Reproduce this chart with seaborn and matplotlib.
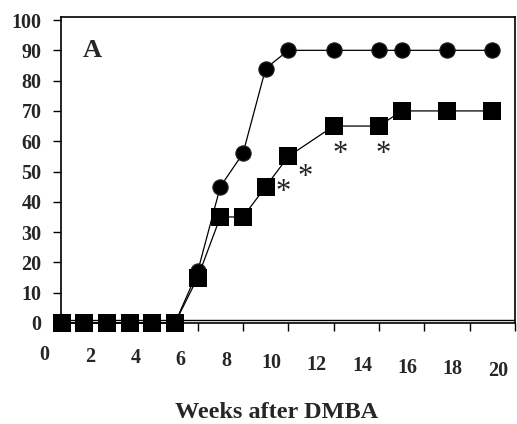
import matplotlib
matplotlib.use("Agg")
import matplotlib.pyplot as plt
import matplotlib.transforms as mtransforms
import seaborn as sns
import pandas as pd

# ---- data ----
weeks = [1, 2, 3, 4, 5, 6, 7, 8, 9, 10, 11, 13, 15, 16, 18, 20]
circle_pct = [0, 0, 0, 0, 0, 0, 17, 45, 56, 84, 90, 90, 90, 90, 90, 90]
square_pct = [0, 0, 0, 0, 0, 0, 15, 35, 35, 45, 55, 65, 65, 70, 70, 70]
star_x = [10.75, 11.73, 13.28, 15.17]
star_y = [43.0, 48.0, 55.5, 55.5]
xtick_labels = [0, 2, 4, 6, 8, 10, 12, 14, 16, 18, 20]
yticks = [0, 10, 20, 30, 40, 50, 60, 70, 80, 90, 100]
panel_label = "A"
xlabel = "Weeks after DMBA"

sns.set_style("ticks")
plt.rcParams["font.family"] = ["Liberation Serif", "DejaVu Serif"]
plt.rcParams["font.weight"] = "bold"

fig = plt.figure(figsize=(5.17, 4.24), dpi=100)
W, H = 517, 424
ax = fig.add_axes([61 / W, 1 - 323 / H, 454 / W, 306 / H])

df_c = pd.DataFrame({"week": weeks, "pct": circle_pct})
df_s = pd.DataFrame({"week": weeks, "pct": square_pct})

sns.lineplot(data=df_c, x="week", y="pct", ax=ax, color="black", lw=0.9,
             marker="o", markersize=11, markeredgecolor="#222222",
             markeredgewidth=0.8, markerfacecolor="black", clip_on=False,
             zorder=3)
sns.lineplot(data=df_s, x="week", y="pct", ax=ax, color="black", lw=0.9,
             marker="s", markersize=13, markeredgecolor="black",
             markeredgewidth=0, markerfacecolor="black", clip_on=False,
             zorder=4)

ax.set_xlim(0.97, 21.0)
ax.set_ylim(0, 101)

# y axis
ax.set_yticks(yticks)
ax.set_yticklabels([str(v) for v in yticks], fontsize=14.5, fontweight="bold")
# x axis: tick marks only, labels drawn separately (offset as in original)
ax.set_xticks([7, 9, 11, 13, 15, 17, 19, 21])
ax.set_xticklabels([])
ax.tick_params(axis="both", direction="out", length=6, width=1, color="black")
ax.tick_params(axis="y", pad=8)
for s in ax.spines.values():
    s.set_visible(True)
    s.set_linewidth(1.2)
    s.set_color("black")

# second (box) line just above the zero axis
ax.axhline(1.15, color="black", lw=1.0, zorder=2)

ax.set_xlabel("")
ax.set_ylabel("")

trans = mtransforms.blended_transform_factory(ax.transData, ax.transAxes)
for v in xtick_labels:
    ypix = 355 + v * 0.8
    ax.text(v + 0.25, (323 - ypix) / 306, str(v), transform=trans,
            ha="center", va="center", fontsize=14.5, fontweight="bold",
            clip_on=False)

for xs, ys in zip(star_x, star_y):
    ax.text(xs, ys, "*", ha="center", va="center", fontsize=22,
            fontweight="normal", color="#222222")

ax.text(0.048, 0.89, panel_label, transform=ax.transAxes, ha="left",
        va="center", fontsize=19, fontweight="bold")

fig.text(277 / W, 1 - 412 / H, xlabel, ha="center", va="center",
         fontsize=17.5, fontweight="bold")

fig.savefig("out.png", dpi=100)
